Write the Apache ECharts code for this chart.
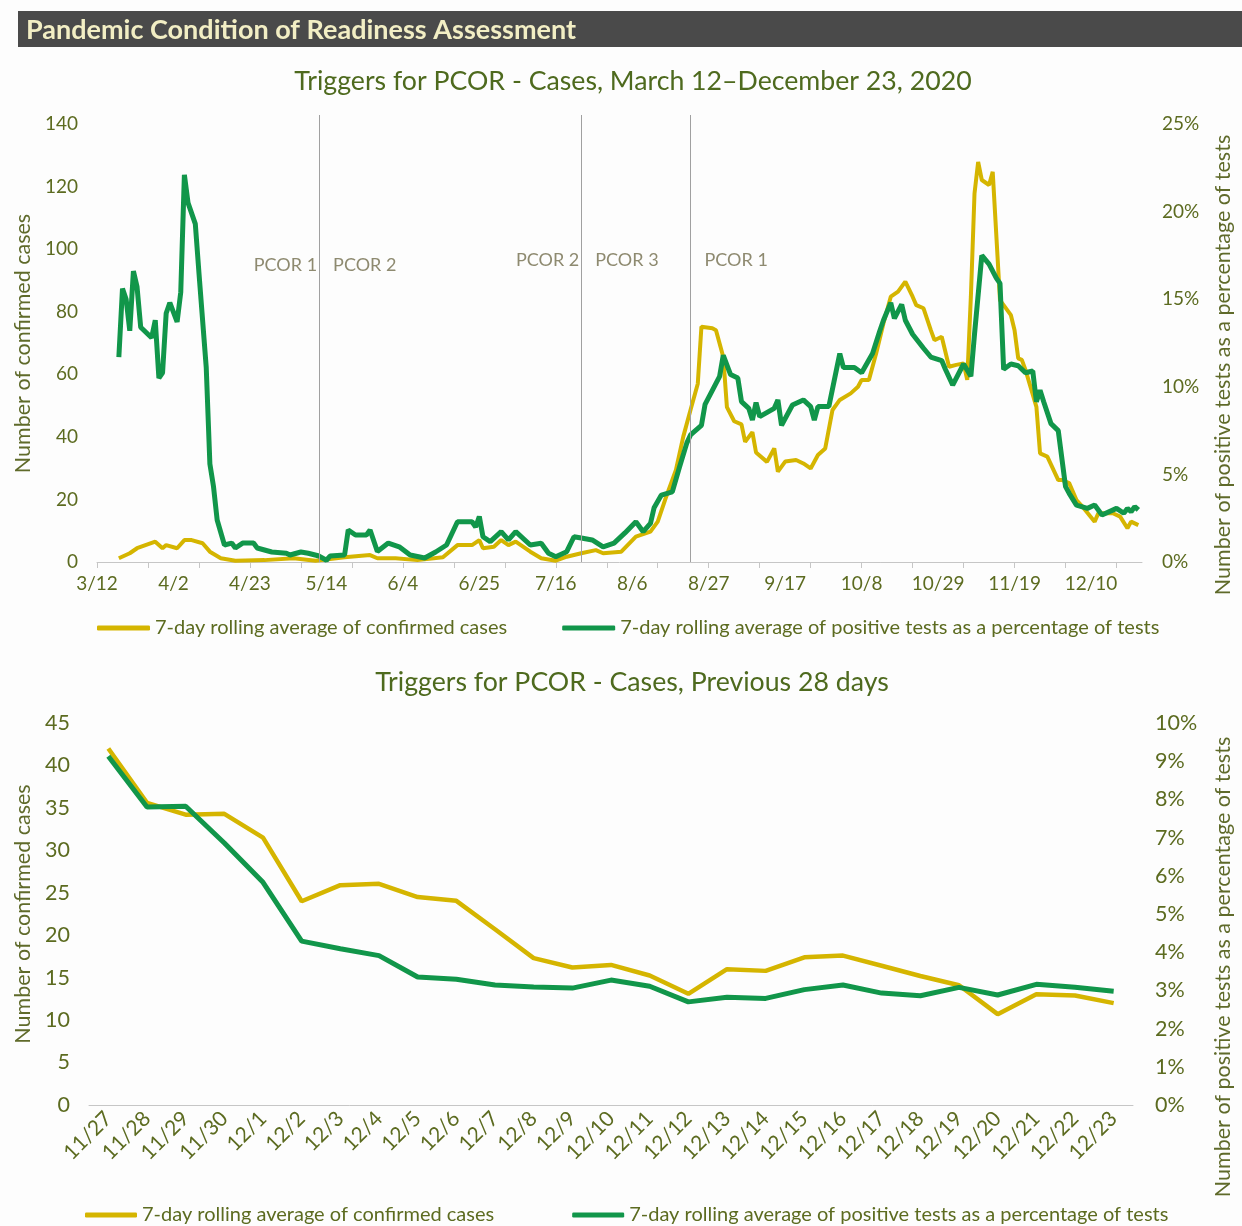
<!DOCTYPE html>
<html>
<head>
<meta charset="utf-8">
<title>Triggers for PCOR</title>
<script src="https://cdn.jsdelivr.net/npm/echarts@6/dist/echarts.min.js"></script>
<style>
  html, body { margin: 0; padding: 0; background: #fdfdfd; }
  #chart { width: 1242px; height: 1226px; }
</style>
</head>
<body>
<div id="chart"></div>
<script>
// --- data ---
// top chart: x = days since 3/12/2020
const topTickLabels = ['3/12', '4/2', '4/23', '5/14', '6/4', '6/25', '7/16', '8/6', '8/27', '9/17', '10/8', '10/29', '11/19', '12/10']
const topLabelDays = [0, 21, 42, 63, 84, 105, 126, 147, 168, 189, 210, 231, 252, 273]
const topTickDays = [0, 14, 28, 42, 56, 70, 84, 98, 112, 126, 140, 154, 168, 182, 196, 210, 224, 238, 252, 266, 280]

// 7-day rolling average of confirmed cases  [day, cases]
const casesTop = [
  [6, 1.2], [9, 2.8], [11, 4.4], [16, 6.5], [18, 4.4], [19, 5.4], [22, 4.4], [24, 7.0], [26, 7.0],
  [29, 6.0], [31, 3.3], [34, 1.2], [38, 0.4], [46, 0.6], [54, 1.2], [60, 0.4], [68, 1.5], [75, 2.2],
  [77, 1.2], [82, 1.2], [88, 0.6], [95, 1.5], [99, 5.4], [103, 5.4], [105, 7.0], [106, 4.4], [109, 4.9],
  [111, 7.0], [113, 5.4], [115, 6.5], [119, 3.3], [122, 1.2], [126, 0.4], [129, 1.7], [133, 2.8],
  [137, 3.8], [139, 2.8], [144, 3.3], [148, 8.1], [152, 9.7], [154, 12.9], [156, 19.8], [159, 29.4],
  [161, 40.0], [163, 48.6], [165, 57.0], [166, 75.2], [169, 74.7], [170, 74.1], [172, 65.5], [173, 49.5],
  [175, 45.0], [177, 44.0], [178, 38.4], [180, 41.5], [181, 35.0], [184, 32.0], [186, 36.3], [187, 28.9],
  [189, 32.1], [192, 32.6], [194, 31.5], [196, 29.9], [198, 34.2], [200, 36.3], [202, 48.6], [204, 51.8],
  [207, 53.9], [209, 56.0], [210, 58.2], [212, 58.2], [214, 66.7], [216, 76.3], [218, 84.8], [220, 86.4],
  [222, 89.6], [224, 84.8], [225, 82.1], [227, 81.1], [229, 74.1], [230, 70.9], [232, 72.0], [234, 62.4],
  [236, 63.0], [238, 63.5], [239, 58.2], [240, 84.8], [241, 117.8], [242, 127.9], [243, 122.1], [245, 120.5],
  [246, 124.7], [248, 83.7], [250, 80.5], [251, 78.9], [252, 74.1], [253, 65.1], [254, 64.6], [255, 61.4],
  [258, 49.6], [259, 34.7], [261, 33.7], [264, 26.2], [265, 26.2], [267, 25.2], [269, 19.8], [271, 17.2],
  [274, 12.9], [275, 15.6], [279, 15.6], [281, 14.5], [283, 10.8], [284, 12.9], [286, 11.8]
]

// 7-day rolling average of positive tests as a percentage of tests  [day, %]
const positivityTop = [
  [6, 11.7], [7, 15.6], [8, 15.0], [9, 13.2], [10, 16.6], [11, 15.7], [12, 13.4], [15, 12.8], [16, 13.8],
  [17, 10.5], [18, 10.8], [19, 14.2], [20, 14.8], [22, 13.7], [23, 15.4], [24, 22.1], [25, 20.5], [27, 19.3],
  [28, 16.5], [30, 11.1], [31, 5.6], [32, 4.3], [33, 2.4], [35, 0.97], [37, 1.08], [38, 0.8], [40, 1.08],
  [43, 1.08], [44, 0.8], [48, 0.57], [52, 0.5], [53, 0.4], [56, 0.57], [58, 0.5], [61, 0.34], [63, 0.1],
  [64, 0.34], [68, 0.4], [69, 1.83], [71, 1.54], [74, 1.54], [75, 1.83], [77, 0.6], [80, 1.08], [83, 0.87],
  [86, 0.4], [90, 0.23], [93, 0.57], [96, 0.97], [99, 2.3], [103, 2.3], [104, 2.0], [105, 2.6], [106, 1.44],
  [108, 1.16], [111, 1.73], [113, 1.26], [115, 1.73], [119, 0.97], [122, 1.07], [124, 0.5], [126, 0.3],
  [129, 0.59], [131, 1.44], [133, 1.37], [136, 1.26], [139, 0.87], [142, 1.08], [145, 1.66], [148, 2.3],
  [150, 1.73], [152, 2.2], [153, 3.1], [155, 3.82], [158, 4.0], [160, 5.44], [162, 6.8], [163, 7.25],
  [166, 7.8], [167, 9.0], [169, 9.8], [171, 10.6], [172, 11.8], [174, 10.7], [176, 10.5], [177, 9.15],
  [179, 8.77], [180, 8.1], [181, 9.1], [182, 8.3], [186, 8.77], [187, 9.25], [188, 7.8], [191, 8.96],
  [194, 9.25], [196, 8.87], [197, 8.1], [198, 8.87], [201, 8.87], [204, 11.9], [205, 11.1], [208, 11.1],
  [210, 10.8], [213, 11.9], [215, 13.2], [216, 13.8], [218, 14.8], [219, 13.9], [221, 14.7], [222, 13.8],
  [224, 13.0], [227, 12.2], [229, 11.7], [232, 11.5], [233, 11.0], [235, 10.1], [238, 11.3], [240, 10.6],
  [241, 13.0], [243, 17.5], [245, 17.0], [247, 16.2], [248, 15.9], [249, 11.0], [251, 11.3], [253, 11.2],
  [255, 10.8], [257, 10.9], [258, 9.15], [259, 9.8], [260, 9.15], [262, 7.9], [264, 7.5], [266, 4.3],
  [267, 3.92], [269, 3.25], [272, 3.06], [274, 3.25], [276, 2.68], [280, 3.06], [282, 2.78], [283, 3.06],
  [284, 2.87], [285, 3.16], [286, 2.97]
]

// PCOR change lines (day) and their labels
const pcorLineDays = [61, 133, 163]
const pcorLabels = [
  { day: 61, text: 'PCOR 1', side: 'left', level: 95 },
  { day: 61, text: 'PCOR 2', side: 'right', level: 95 },
  { day: 133, text: 'PCOR 2', side: 'left', level: 96.5 },
  { day: 133, text: 'PCOR 3', side: 'right', level: 96.5 },
  { day: 163, text: 'PCOR 1', side: 'right', level: 96.5 }
]

// bottom chart: previous 28 days
const recentDates = ['11/27', '11/28', '11/29', '11/30', '12/1', '12/2', '12/3', '12/4', '12/5', '12/6', '12/7',
  '12/8', '12/9', '12/10', '12/11', '12/12', '12/13', '12/14', '12/15', '12/16', '12/17', '12/18', '12/19',
  '12/20', '12/21', '12/22', '12/23']
const casesRecent = [42.0, 35.6, 34.2, 34.3, 31.5, 24.0, 25.9, 26.05, 24.5, 24.05, 20.7, 17.3, 16.2, 16.5,
  15.25, 13.1, 16.0, 15.8, 17.4, 17.6, 16.4, 15.2, 14.1, 10.7, 13.05, 12.9, 12.0]
const positivityRecent = [9.13, 7.8, 7.82, 6.86, 5.83, 4.29, 4.09, 3.91, 3.35, 3.29, 3.14, 3.09, 3.06, 3.27,
  3.11, 2.7, 2.82, 2.79, 3.02, 3.14, 2.93, 2.86, 3.08, 2.88, 3.16, 3.08, 2.98]

const casesName = '7-day rolling average of confirmed cases'
const pctName = '7-day rolling average of positive tests as a percentage of tests'

// --- styles ---
const FONT = 'Lato'
const TEXT = '#5c6b20'
const YELLOW = '#d5b500'
const GREEN = '#11964a'
const AXIS = '#c6c6c6'

const chart = echarts.init(document.getElementById('chart'))

const topLabel = { color: TEXT, fontFamily: FONT, fontSize: 19 }
const bottomLabel = { color: TEXT, fontFamily: FONT, fontSize: 21.5 }
const nameStyle = { color: '#5f6a2a', fontFamily: FONT, fontSize: 21.5 }
const legendText = { color: TEXT, fontFamily: FONT, fontSize: 20 }
const titleText = { color: '#4e6a1e', fontFamily: FONT, fontWeight: 'normal', fontSize: 26.7 }

const option = {
  backgroundColor: '#fdfdfd',
  animation: false,
  graphic: [
    { type: 'rect', shape: { x: 18, y: 11, width: 1224, height: 36 }, style: { fill: '#4a4a4a' } },
    {
      type: 'text', x: 26, y: 30,
      style: { text: 'Pandemic Condition of Readiness Assessment', fill: '#f2eec4', fontFamily: FONT,
        fontWeight: 'bold', fontSize: 27, verticalAlign: 'middle' }
    }
  ],
  title: [
    {
      text: 'Triggers for PCOR - Cases, March 12\u2013December 23, 2020',
      left: 628, top: 63, textAlign: 'center', textStyle: titleText
    },
    {
      text: 'Triggers for PCOR - Cases, Previous 28 days',
      left: 627, top: 664, textAlign: 'center', textStyle: titleText
    }
  ],
  legend: [
    {
      data: [casesName, pctName], left: 97, top: 618, padding: 0, itemWidth: 53, itemHeight: 5, itemGap: 55,
      icon: 'roundRect', textStyle: legendText
    },
    {
      data: [casesName, pctName], left: 85, top: 1205, padding: 0, itemWidth: 52, itemHeight: 5, itemGap: 78,
      icon: 'roundRect', textStyle: legendText
    }
  ],
  grid: [
    { left: 97, right: 90, top: 115, height: 447 },
    { left: 89, right: 99, top: 723, height: 382 }
  ],
  xAxis: [
    {
      gridIndex: 0, type: 'value', min: 0, max: 287,
      axisLine: { lineStyle: { color: AXIS } },
      axisTick: { customValues: topTickDays, length: 6, lineStyle: { color: AXIS } },
      axisLabel: Object.assign({}, topLabel, {
        customValues: topLabelDays, margin: 12,
        formatter: (v) => topTickLabels[topLabelDays.indexOf(v)] || ''
      }),
      splitLine: { show: false }
    },
    {
      gridIndex: 1, type: 'category', data: recentDates, boundaryGap: true,
      axisLine: { lineStyle: { color: AXIS } },
      axisTick: { length: 7, lineStyle: { color: AXIS } },
      axisLabel: Object.assign({}, bottomLabel, { rotate: 45, interval: 0, margin: 10, fontSize: 21 })
    }
  ],
  yAxis: [
    {
      gridIndex: 0, type: 'value', min: 0, max: 140 * 447 / 438,
      name: 'Number of confirmed cases', nameLocation: 'middle', nameGap: 62,
      nameTextStyle: Object.assign({}, nameStyle, { padding: [0, 10, 0, 0] }),
      axisLabel: Object.assign({}, topLabel, { customValues: [0, 20, 40, 60, 80, 100, 120, 140], margin: 19 }),
      axisLine: { show: false }, axisTick: { show: false }, splitLine: { show: false }
    },
    {
      gridIndex: 0, type: 'value', position: 'right', min: 0, max: 25 * 447 / 438,
      name: 'Number of positive tests as a percentage of tests', nameLocation: 'middle', nameGap: 70,
      nameTextStyle: Object.assign({}, nameStyle, { padding: [0, 53, 0, 0] }),
      axisLabel: Object.assign({}, topLabel, { customValues: [0, 5, 10, 15, 20, 25], margin: 20,
        formatter: '{value}%' }),
      axisLine: { show: false }, axisTick: { show: false }, splitLine: { show: false }
    },
    {
      gridIndex: 1, type: 'value', min: 0, max: 45, interval: 5,
      name: 'Number of confirmed cases', nameLocation: 'middle', nameGap: 53, nameTextStyle: nameStyle,
      axisLabel: Object.assign({}, bottomLabel, { margin: 19 }),
      axisLine: { show: false }, axisTick: { show: false }, splitLine: { show: false }
    },
    {
      gridIndex: 1, type: 'value', position: 'right', min: 0, max: 10, interval: 1,
      name: 'Number of positive tests as a percentage of tests', nameLocation: 'middle', nameGap: 79,
      nameTextStyle: Object.assign({}, nameStyle, { padding: [0, 106, 0, 0] }),
      axisLabel: Object.assign({}, bottomLabel, { margin: 22, formatter: '{value}%' }),
      axisLine: { show: false }, axisTick: { show: false }, splitLine: { show: false }
    }
  ],
  series: [
    {
      name: casesName, type: 'line', xAxisIndex: 0, yAxisIndex: 0, data: casesTop,
      showSymbol: false, lineStyle: { color: YELLOW, width: 4 }, itemStyle: { color: YELLOW },
      markLine: {
        silent: true, symbol: 'none', label: { show: false },
        lineStyle: { color: '#a0a0a0', width: 1, type: 'solid' },
        data: pcorLineDays.map((d) => ({ xAxis: d }))
      },
      markPoint: {
        silent: true, symbol: 'circle', symbolSize: 0,
        data: pcorLabels.map((p) => ({
          coord: [p.day, p.level],
          label: {
            show: true, formatter: p.text, position: p.side, distance: p.side === 'left' ? 2 : 14,
            color: '#8e8a70', fontFamily: FONT, fontSize: 18
          }
        }))
      }
    },
    {
      name: pctName, type: 'line', xAxisIndex: 0, yAxisIndex: 1, data: positivityTop,
      showSymbol: false, lineStyle: { color: GREEN, width: 5 }, itemStyle: { color: GREEN }
    },
    {
      name: casesName, type: 'line', xAxisIndex: 1, yAxisIndex: 2, data: casesRecent,
      showSymbol: false, lineStyle: { color: YELLOW, width: 4.5 }, itemStyle: { color: YELLOW }
    },
    {
      name: pctName, type: 'line', xAxisIndex: 1, yAxisIndex: 3, data: positivityRecent,
      showSymbol: false, lineStyle: { color: GREEN, width: 5 }, itemStyle: { color: GREEN }
    }
  ]
}

chart.setOption(option)
</script>
</body>
</html>
